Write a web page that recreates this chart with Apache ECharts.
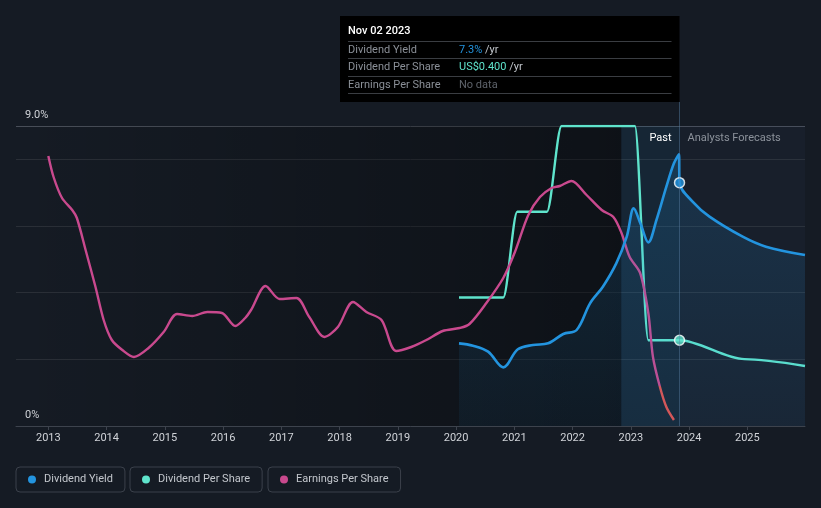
<!DOCTYPE html>
<html><head><meta charset="utf-8">
<script src="https://cdn.jsdelivr.net/npm/echarts@6/dist/echarts.min.js"></script>
<style>html,body{margin:0;padding:0;background:#151b24;}#c{width:821px;height:508px;}</style>
</head><body><div id="c"></div>
<script>
// ---- data ----
const xRange = [2012.445, 2025.99];
const yearTicks = [2013, 2014, 2015, 2016, 2017, 2018, 2019, 2020, 2021, 2022, 2023, 2024, 2025];
const yieldLabelValues = [0, 9];
const nowX = 2023.836;           // Nov 02 2023
const pastBandStart = 2022.836;  // one year before now

// Dividend Yield (%): [year, value]
const yieldData = [
  [2020.05, 2.48], [2020.29, 2.41], [2020.55, 2.23], [2020.81, 1.76], [2021.06, 2.30],
  [2021.32, 2.43], [2021.58, 2.48], [2021.84, 2.76], [2022.07, 2.88], [2022.30, 3.68],
  [2022.52, 4.18], [2022.75, 4.88], [2022.93, 5.68], [2023.05, 6.53],
  [2023.17, 6.05], [2023.30, 5.51], [2023.44, 6.18], [2023.61, 7.18], [2023.74, 7.88],
  [2023.826, 8.15], [2023.836, 7.30],
  [2024.06, 6.73], [2024.35, 6.28], [2024.92, 5.68], [2025.32, 5.38], [2025.99, 5.13]
];
// Dividend Per Share (US$): [year, value]
const dpsData = [
  [2020.05, 0.60], [2020.81, 0.60], [2021.05, 1.00], [2021.56, 1.00], [2021.81, 1.40],
  [2023.07, 1.40], [2023.30, 0.40], [2023.836, 0.40],
  [2024.95, 0.312], [2025.99, 0.280]
];
// Earnings Per Share (US$): [year, value]
const epsData = [
  [2013.00, 2.30], [2013.09, 2.09], [2013.235, 1.88], [2013.41, 1.76], [2013.49, 1.68],
  [2013.64, 1.36], [2013.81, 0.99], [2013.95, 0.66], [2014.09, 0.46], [2014.27, 0.36],
  [2014.47, 0.29], [2014.72, 0.38], [2014.98, 0.54], [2015.21, 0.72], [2015.47, 0.70],
  [2015.73, 0.74], [2015.98, 0.73], [2016.21, 0.60], [2016.38, 0.68], [2016.48, 0.76],
  [2016.73, 1.00], [2016.97, 0.87], [2017.26, 0.88], [2017.48, 0.69], [2017.74, 0.49],
  [2017.97, 0.59], [2018.23, 0.84], [2018.46, 0.74], [2018.72, 0.66], [2018.97, 0.35],
  [2019.23, 0.39], [2019.49, 0.46], [2019.77, 0.55], [2020.06, 0.58], [2020.23, 0.62],
  [2020.52, 0.83], [2020.81, 1.08], [2021.01, 1.34], [2021.24, 1.71], [2021.44, 1.89],
  [2021.64, 1.98], [2021.78, 2.00], [2021.98, 2.05], [2022.24, 1.91], [2022.50, 1.76],
  [2022.70, 1.69], [2022.84, 1.53], [2022.98, 1.29], [2023.16, 1.13], [2023.30, 0.73],
  [2023.38, 0.29], [2023.50, -0.01], [2023.61, -0.21], [2023.74, -0.34]
];

const seriesNames = ['Dividend Yield', 'Dividend Per Share', 'Earnings Per Share'];
const colors = ['#2394df', '#5fe4cc', '#c9498e'];
const negColor = '#e0524f';
const tipDate = 'Nov 02 2023';
const tipYield = '7.3%';
const tipDps = 'US$0.400';
const tipEps = 'No data';

const nowYield = yieldData.find(d => d[0] === nowX);
const nowDps = dpsData.find(d => d[0] === nowX);

const chart = echarts.init(document.getElementById('c'), null, {renderer: 'canvas'});
const FONT = 'Roboto, "Noto Sans", sans-serif';

function legendAt(i, left) {
  return {
    data: [seriesNames[i]], left: left, top: 467, orient: 'horizontal',
    icon: 'circle', itemWidth: 8, itemHeight: 8, itemGap: 0,
    padding: [7, 12, 7, 12], borderColor: '#3b414b', borderWidth: 1, borderRadius: 4,
    textStyle: {color: '#c3c7cd', fontSize: 11, fontFamily: FONT, padding: [1, 0, 0, 3]},
    selectedMode: false
  };
}

const option = {
  backgroundColor: '#151b24',
  animation: false,
  grid: {left: 16, right: 16, top: 126, bottom: 82, containLabel: false},
  xAxis: {
    type: 'value', min: xRange[0], max: xRange[1],
    axisLine: {show: true, lineStyle: {color: '#3d434d', width: 1}},
    axisTick: {show: true, customValues: yearTicks, length: 4, lineStyle: {color: '#3d434d'}},
    axisLabel: {customValues: yearTicks, color: '#d0d3d8', fontSize: 11, fontFamily: FONT, margin: 7,
      formatter: v => String(Math.round(v))},
    splitLine: {show: false}
  },
  yAxis: [
    {
      type: 'value', min: 0, max: 9, interval: 2,
      axisLine: {show: false}, axisTick: {show: false},
      axisLabel: {customValues: yieldLabelValues, inside: true, margin: 9, color: '#d0d3d8',
        fontSize: 11, fontFamily: FONT, verticalAlign: 'bottom', padding: [0, 0, 5, 0],
        formatter: v => (v === 0 ? '0%' : v.toFixed(1) + '%')},
      splitLine: {show: true, lineStyle: {color: ['#2a2f37', '#2a2f37', '#2a2f37', '#2a2f37', '#2a2f37', '#484e58'], width: 1}}
    },
    {type: 'value', min: 0, max: 1.4, show: false, splitLine: {show: false}},
    {type: 'value', min: -0.4, max: 2.6, show: false, splitLine: {show: false}}
  ],
  visualMap: [{
    type: 'piecewise', show: false, seriesIndex: 2, dimension: 1,
    pieces: [{gte: -5, lt: 0, color: negColor}, {gte: 0, lte: 5, color: colors[2]}]
  }],
  legend: [legendAt(0, 16), legendAt(1, 130), legendAt(2, 268)],
  series: [
    {
      name: seriesNames[0], type: 'line', yAxisIndex: 0, data: yieldData,
      smooth: 0.35, showSymbol: false, symbol: 'none', z: 4,
      lineStyle: {color: colors[0], width: 2.6}, itemStyle: {color: colors[0]},
      areaStyle: {color: new echarts.graphic.LinearGradient(0, 0, 0, 1, [
        {offset: 0, color: 'rgba(35,148,223,0.25)'}, {offset: 1, color: 'rgba(35,148,223,0.09)'}])}
    },
    {
      name: seriesNames[1], type: 'line', yAxisIndex: 1, data: dpsData,
      smooth: 0.3, smoothMonotone: 'x', showSymbol: false, symbol: 'none', z: 3,
      lineStyle: {color: colors[1], width: 2.4}, itemStyle: {color: colors[1]}
    },
    {
      name: seriesNames[2], type: 'line', yAxisIndex: 2, data: epsData,
      smooth: 0.3, showSymbol: false, symbol: 'none', z: 3,
      lineStyle: {width: 2.4}, itemStyle: {color: colors[2]}
    },
    {
      type: 'scatter', yAxisIndex: 0, data: [nowYield], symbolSize: 10, z: 6, silent: true,
      itemStyle: {color: colors[0], borderColor: '#ffffff', borderWidth: 1.5}
    },
    {
      type: 'scatter', yAxisIndex: 1, data: [nowDps], symbolSize: 10, z: 6, silent: true,
      itemStyle: {color: colors[1], borderColor: '#ffffff', borderWidth: 1.5}
    },
    {
      // background regions (past / last year / forecast)
      type: 'line', yAxisIndex: 0, data: [], z: 1, silent: true,
      markArea: {
        silent: true,
        data: [
          [{xAxis: xRange[0], itemStyle: {color: new echarts.graphic.LinearGradient(0, 0, 1, 0, [
              {offset: 0, color: 'rgba(0,0,0,0)'}, {offset: 1, color: 'rgba(0,0,0,0.36)'}])}},
           {xAxis: pastBandStart}],
          [{xAxis: pastBandStart, itemStyle: {color: 'rgba(35,120,185,0.12)'},
            label: {show: true, formatter: 'Past', position: 'insideTopRight', distance: 0,
              padding: [7, 8, 0, 0], color: '#ffffff', fontSize: 11, fontFamily: FONT}},
           {xAxis: nowX}],
          [{xAxis: nowX, itemStyle: {color: 'rgba(60,90,125,0.08)'},
            label: {show: true, formatter: 'Analysts Forecasts', position: 'insideTopLeft', distance: 0,
              padding: [7, 0, 0, 8], color: '#8c929b', fontSize: 11, fontFamily: FONT}},
           {xAxis: xRange[1]}]
        ]
      }
    }
  ]
};
chart.setOption(option);

// Crosshair line at "now" and tooltip box
const nowPx = chart.convertToPixel({xAxisIndex: 0}, nowX);
const axisBottom = chart.convertToPixel({yAxisIndex: 0}, 0);
const boxL = 340, boxT = 16, boxW = nowPx - 340, boxH = 86;
const rowX = 348, valX = 459, sepW = boxW - 16;
const F11 = '11px ' + FONT;
const txt = (x, y, text, fill, font) => ({
  type: 'text', x: x, y: y, silent: true,
  style: {text: text, fill: fill, font: font || F11, verticalAlign: 'middle'}
});
const valTxt = (y, v, c) => ({type: 'text', x: valX, y: y, silent: true,
  style: {text: '{v|' + v + '} {u|/yr}', verticalAlign: 'middle', font: F11,
    rich: {v: {fill: c, font: F11}, u: {fill: '#c3c7cd', font: F11}}}});
const sep = y => ({type: 'line', silent: true, shape: {x1: rowX, y1: y, x2: rowX + sepW, y2: y},
  style: {stroke: '#3a3d42', lineWidth: 1}});
chart.setOption({
  graphic: [
    {type: 'line', silent: true, z: 10, shape: {x1: nowPx, y1: boxT + boxH, x2: nowPx, y2: axisBottom},
      style: {stroke: 'rgba(90,130,170,0.45)', lineWidth: 1}},
    {type: 'group', z: 20, children: [
      {type: 'rect', silent: true, shape: {x: boxL, y: boxT, width: boxW, height: boxH}, style: {fill: '#000000'}},
      txt(rowX, 31, tipDate, '#ffffff', '500 11px ' + FONT),
      sep(41.5), sep(58.5), sep(76.5), sep(93.5),
      txt(rowX, 50, seriesNames[0], '#8b9098'),
      valTxt(50, tipYield, colors[0]),
      txt(rowX, 67, seriesNames[1], '#8b9098'),
      valTxt(67, tipDps, colors[1]),
      txt(rowX, 85, seriesNames[2], '#8b9098'),
      txt(valX, 85, tipEps, '#5e636b')
    ]}
  ]
});
</script>
</body></html>
